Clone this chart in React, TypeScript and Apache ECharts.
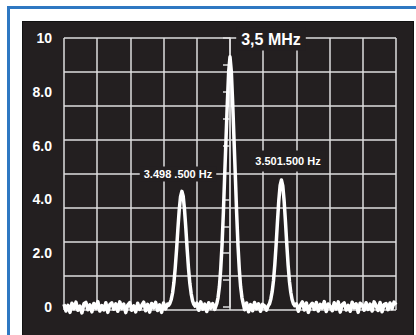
import React, { useEffect, useRef } from "react";
import * as echarts from "echarts";

// Frequency offsets (Hz) relative to 3,5 MHz; each segment: start, step, levels
const noiseLowStart = -5000;
const noiseLowStep = 60;
const noiseLow = [0.10, -0.15, 0.06, -0.20, 0.14, -0.06, 0.18, -0.12, 0.03, -0.22, 0.12, 0.17, -0.10, 0.08, -0.18, 0.13, -0.04, 0.20, -0.15, 0.05, -0.11, 0.16, -0.20, 0.09, 0.15, -0.08, 0.12, -0.16, 0.19, -0.05, 0.11, -0.21, 0.07, 0.16, -0.12, 0.04, -0.18, 0.14, -0.09, 0.06, 0.18, -0.14, 0.10, -0.19, 0.13, -0.03, 0.17, -0.13, 0.08, -0.20, 0.15, -0.07, 0.11];

const peakLeftStart = -1850;
const peakLeftStep = 40;
const peakLeft = [0.06, 0.14, 0.28, 0.52, 0.90, 1.45, 2.12, 2.90, 3.60, 4.10, 4.30, 4.12, 3.62, 2.92, 2.14, 1.44, 0.88, 0.50, 0.24, 0.10, 0.03];

const noiseMidLeftStart = -1000;
const noiseMidLeftStep = 60;
const noiseMidLeft = [0.15, -0.12, 0.19, -0.08, 0.11, -0.17, 0.16, -0.04, 0.13, -0.09];

const peakCenterStart = -400;
const peakCenterStep = 40;
const peakCenter = [0.12, 0.35, 0.75, 1.40, 2.30, 3.50, 4.90, 6.25, 7.60, 8.75, 9.30, 8.75, 7.60, 6.25, 4.90, 3.50, 2.30, 1.40, 0.75, 0.35, 0.12];

const noiseMidRightStart = 440;
const noiseMidRightStep = 60;
const noiseMidRight = [-0.10, 0.15, -0.18, 0.09, -0.14, 0.17, -0.06, 0.12, -0.16, 0.10, 0.04, -0.12];

const peakRightStart = 1150;
const peakRightStep = 40;
const peakRight = [0.04, 0.12, 0.30, 0.57, 0.98, 1.58, 2.33, 3.18, 3.96, 4.52, 4.72, 4.50, 3.95, 3.18, 2.34, 1.57, 0.96, 0.55, 0.28, 0.12, 0.05];

const noiseHighStart = 2000;
const noiseHighStep = 60;
const noiseHigh = [0.12, -0.16, 0.07, 0.19, -0.11, 0.15, -0.20, 0.05, 0.14, -0.09, 0.17, -0.15, 0.10, -0.04, 0.20, -0.17, 0.11, 0.02, -0.14, 0.16, -0.07, 0.19, -0.19, 0.09, 0.15, -0.11, 0.06, -0.16, 0.18, -0.03, 0.12, -0.20, 0.14, 0.07, -0.12, 0.16, -0.09, 0.11, -0.15, 0.19, 0.05, -0.13, 0.17, -0.18, 0.09, 0.13, -0.10, 0.15, -0.06, 0.18, 0.08];

const yTickLabels: Record<number, string> = { 0: "0", 2: "2.0", 4: "4.0", 6: "6.0", 8: "8.0", 10: "10" };
const centerLabel = "3,5 MHz";
const lowLabel = "3.498 .500 Hz";
const highLabel = "3.501.500 Hz";

function seg(start: number, step: number, vals: number[]): number[][] {
  return vals.map((v, i) => [start + i * step, v]);
}

export default function App() {
  const ref = useRef<HTMLDivElement>(null);
  useEffect(() => {
    if (!ref.current) return;
    const chart = echarts.init(ref.current, null, { renderer: "svg" });
    const data = [
      ...seg(noiseLowStart, noiseLowStep, noiseLow),
      ...seg(peakLeftStart, peakLeftStep, peakLeft),
      ...seg(noiseMidLeftStart, noiseMidLeftStep, noiseMidLeft),
      ...seg(peakCenterStart, peakCenterStep, peakCenter),
      ...seg(noiseMidRightStart, noiseMidRightStep, noiseMidRight),
      ...seg(peakRightStart, peakRightStep, peakRight),
      ...seg(noiseHighStart, noiseHighStep, noiseHigh),
    ];
    const gridColor = "#dedede";
    const font = "'Liberation Sans', Arial, sans-serif";
    chart.setOption({
      animation: false,
      backgroundColor: "transparent",
      grid: [
        { left: 64, right: 20, top: 38, bottom: 28 },
        { left: 64, right: 20, top: 38, bottom: 25 },
      ],
      xAxis: [
        { gridIndex: 0, type: "value", min: -5000, max: 5000, show: false },
        {
          gridIndex: 1, type: "value", min: 0, max: 10, interval: 1,
          axisLine: { show: false }, axisTick: { show: false }, axisLabel: { show: false },
          splitLine: { show: true, showMinLine: true, showMaxLine: true, lineStyle: { color: gridColor, width: 1.5 } },
        },
      ],
      yAxis: [
        {
          gridIndex: 0, type: "value", min: 0, max: 10, interval: 1,
          axisLine: { show: true, lineStyle: { color: gridColor, width: 1.5 } },
          axisTick: { show: true, length: 7, lineStyle: { color: gridColor, width: 1.5 } },
          axisLabel: {
            show: true, margin: 12, color: "#ffffff", fontWeight: "bold", fontSize: 14, fontFamily: font,
            showMinLabel: true, showMaxLabel: true,
            formatter: (v: number) => yTickLabels[v] ?? "",
          },
          splitLine: { show: false },
        },
        {
          gridIndex: 1, type: "value", min: 0, max: 8, interval: 1,
          axisLine: { show: false }, axisTick: { show: false }, axisLabel: { show: false },
          splitLine: { show: true, showMinLine: true, showMaxLine: true, lineStyle: { color: gridColor, width: 1.5 } },
        },
      ],
      series: [
        {
          type: "line", xAxisIndex: 0, yAxisIndex: 0, data, showSymbol: false, symbol: "none",
          clip: false, z: 5, lineStyle: { color: "#ffffff", width: 3.5, join: "round" },
        },
      ],
      graphic: [
        {
          type: "text", x: 271, y: 39, z: 100,
          style: {
            text: centerLabel, fill: "#ffffff", font: `bold 16px ${font}`, align: "center", verticalAlign: "middle",
            backgroundColor: "#231f20", padding: [3, 5, 4, 5],
          },
        },
        {
          type: "text", x: 178, y: 174, z: 100,
          style: {
            text: lowLabel, fill: "#ffffff", font: `bold 11px ${font}`, align: "center", verticalAlign: "middle",
            backgroundColor: "#231f20", padding: [2, 4, 2, 4],
          },
        },
        {
          type: "text", x: 288, y: 161, z: 100,
          style: {
            text: highLabel, fill: "#ffffff", font: `bold 11px ${font}`, align: "center", verticalAlign: "middle",
            backgroundColor: "#231f20", padding: [5, 5, 5, 5],
          },
        },
      ],
    });
    return () => chart.dispose();
  }, []);

  return (
    <div style={{ position: "fixed", left: 0, top: 0, width: 416, height: 335, overflow: "hidden", background: "#ffffff" }}>
      <div style={{ position: "absolute", left: 7, top: 6, width: 440, height: 360, borderLeft: "3px solid #2f78c2", borderTop: "3px solid #2f78c2" }} />
      <div style={{ position: "absolute", left: 22, top: 21, width: 392, height: 340, background: "#231f20", boxSizing: "border-box", border: "1px solid #111" }} />
      <div ref={ref} style={{ position: "absolute", left: 0, top: 0, width: 416, height: 335 }} />
    </div>
  );
}
